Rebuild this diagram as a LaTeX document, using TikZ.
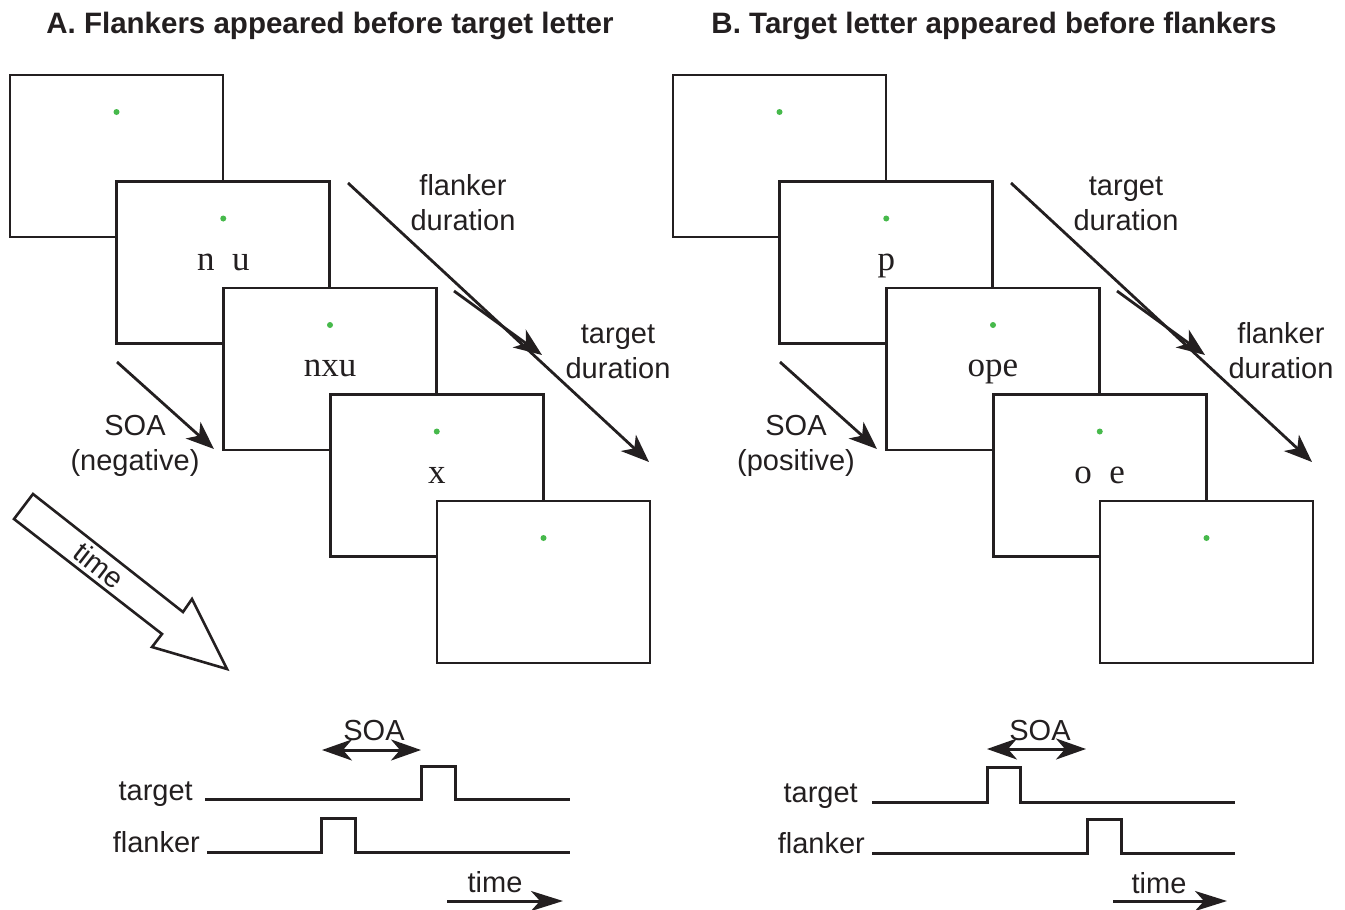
\documentclass[tikz,border=0pt]{standalone}
\usepackage{fontspec}
\setmainfont{Liberation Sans}
\newfontfamily\letterfont{Liberation Serif}
\usetikzlibrary{arrows.meta}
\definecolor{ink}{RGB}{35,31,32}
\definecolor{fixgreen}{RGB}{70,185,75}

\tikzset{
  screen/.style={draw=ink, fill=white, line width=2.8pt, minimum width=213pt,
    minimum height=162pt, inner sep=0pt, outer sep=0pt},
  fixdot/.style={circle, fill=fixgreen, inner sep=0pt, minimum size=6pt},
  letters/.style={font=\letterfont\fontsize{35}{40}\selectfont, text=ink,
    inner sep=0pt, anchor=base},
  % two-line labels: the base anchor sits on the baseline of the last line
  lbl/.style={font=\fontsize{29}{35}\selectfont, text=ink, align=center,
    inner sep=0pt, anchor=base},
  rlbl/.style={font=\fontsize{29}{35}\selectfont, text=ink, inner sep=0pt,
    anchor=base east},
  heading/.style={font=\bfseries\fontsize{29.5}{35}\selectfont, text=ink,
    inner sep=0pt, anchor=base},
  durarrow/.style={draw=ink, line width=2.8pt,
    -{Stealth[length=28pt,width=22pt,inset=8pt]}},
  soaarrow/.style={draw=ink, line width=3pt,
    {Stealth[length=30pt,width=21pt,inset=9pt]}-{Stealth[length=30pt,width=21pt,inset=9pt]}},
  timearrow/.style={draw=ink, line width=3pt,
    -{Stealth[length=32pt,width=20pt,inset=9pt]}},
  trace/.style={draw=ink, line width=3pt, line join=miter},
  blockarrow/.style={draw=ink, fill=white, line width=2.6pt, line join=miter}
}

\begin{document}
\begin{tikzpicture}[x=1pt,y=-1pt]
\useasboundingbox (0,0) rectangle (1345,910);

% ---------- headings ----------
\node[heading] (titleA) at (330,34) {A. Flankers appeared before target letter};
\node[heading] (titleB) at (994,34) {B. Target letter appeared before flankers};

% ---------- panel A: stimulus frames ----------
\node[screen] (a0) at (116.5,156) {};
\node[fixdot] (da0) at (116.5,112) {};
\node[screen] (a1) at (223.25,262.5) {};
\node[fixdot] (da1) at (223.25,218.5) {};
\node[letters] (la1) at (223.25,270) {n\phantom{x}u};
\node[screen] (a2) at (330,369) {};
\node[fixdot] (da2) at (330,325) {};
\node[letters] (la2) at (330,376.5) {nxu};
\node[screen] (a3) at (436.75,475.5) {};
\node[fixdot] (da3) at (436.75,431.5) {};
\node[letters] (la3) at (436.75,483) {x};
\node[screen] (a4) at (543.5,582) {};
\node[fixdot] (da4) at (543.5,538) {};

% ---------- panel B: stimulus frames ----------
\node[screen] (b0) at (779.5,156) {};
\node[fixdot] (db0) at (779.5,112) {};
\node[screen] (b1) at (886.25,262.5) {};
\node[fixdot] (db1) at (886.25,218.5) {};
\node[letters] (lb1) at (886.25,270) {p};
\node[screen] (b2) at (993,369) {};
\node[fixdot] (db2) at (993,325) {};
\node[letters] (lb2) at (993,376.5) {ope};
\node[screen] (b3) at (1099.75,475.5) {};
\node[fixdot] (db3) at (1099.75,431.5) {};
\node[letters] (lb3) at (1099.75,483) {o\phantom{p}e};
\node[screen] (b4) at (1206.5,582) {};
\node[fixdot] (db4) at (1206.5,538) {};

% ---------- panel A: duration and SOA arrows ----------
\coordinate (afs) at (348,183);  \coordinate (afe) at (649,462);
\coordinate (ats) at (454,291);  \coordinate (ate) at (542,355);
\coordinate (ass) at (117,362);  \coordinate (ase) at (214,449);
\draw[durarrow] (afs) -- (afe);
\draw[durarrow] (ats) -- (ate);
\draw[durarrow] (ass) -- (ase);
\node[lbl] (afl) at (463,230) {flanker\\duration};
\node[lbl] (atl) at (618,378) {target\\duration};
\node[lbl] (asl) at (135,470) {SOA\\(negative)};

% ---------- panel B: duration and SOA arrows ----------
\coordinate (bts) at (1011,183); \coordinate (bte) at (1312,462);
\coordinate (bfs) at (1117,291); \coordinate (bfe) at (1205,355);
\coordinate (bss) at (780,362);  \coordinate (bse) at (877,449);
\draw[durarrow] (bts) -- (bte);
\draw[durarrow] (bfs) -- (bfe);
\draw[durarrow] (bss) -- (bse);
\node[lbl] (btl) at (1126,230) {target\\duration};
\node[lbl] (bfl) at (1281,378) {flanker\\duration};
\node[lbl] (bsl) at (796,470) {SOA\\(positive)};

% ---------- big time arrow ----------
\draw[blockarrow] (33,494) -- (14,519) -- (162,634) -- (152,647) -- (227,669)
  -- (192,599) -- (183,612) -- cycle;
\node[font=\fontsize{29}{35}\selectfont, text=ink, inner sep=0pt, rotate=-38]
  (bigtime) at (99,565) {time};

% ---------- panel A: timing traces ----------
\node[rlbl] (tA) at (193,800) {target};
\node[rlbl] (fA) at (200,852) {flanker};
\draw[trace] (205,799.5) -- (421,799.5) -- (421,766) -- (455,766) -- (455,799.5) -- (570,799.5);
\draw[trace] (207,852) -- (321,852) -- (321,818) -- (355,818) -- (355,852) -- (570,852);
\coordinate (sAl) at (322,750); \coordinate (sAr) at (421,750);
\draw[soaarrow] (sAl) -- (sAr);
\node[lbl] (soaA) at (374,740) {SOA};
\coordinate (tAl) at (447,901); \coordinate (tAr) at (563,901);
\draw[timearrow] (tAl) -- (tAr);
\node[lbl] (timeA) at (495,892) {time};

% ---------- panel B: timing traces ----------
\node[rlbl] (tB) at (858,802) {target};
\node[rlbl] (fB) at (865,853) {flanker};
\draw[trace] (872,802) -- (987,802) -- (987,767) -- (1020,767) -- (1020,802) -- (1235,802);
\draw[trace] (872,853) -- (1087,853) -- (1087,819) -- (1121,819) -- (1121,853) -- (1235,853);
\coordinate (sBl) at (987,749); \coordinate (sBr) at (1086,749);
\draw[soaarrow] (sBl) -- (sBr);
\node[lbl] (soaB) at (1040,740) {SOA};
\coordinate (tBl) at (1113,901); \coordinate (tBr) at (1227,901);
\draw[timearrow] (tBl) -- (tBr);
\node[lbl] (timeB) at (1159,893) {time};
\end{tikzpicture}
\end{document}
